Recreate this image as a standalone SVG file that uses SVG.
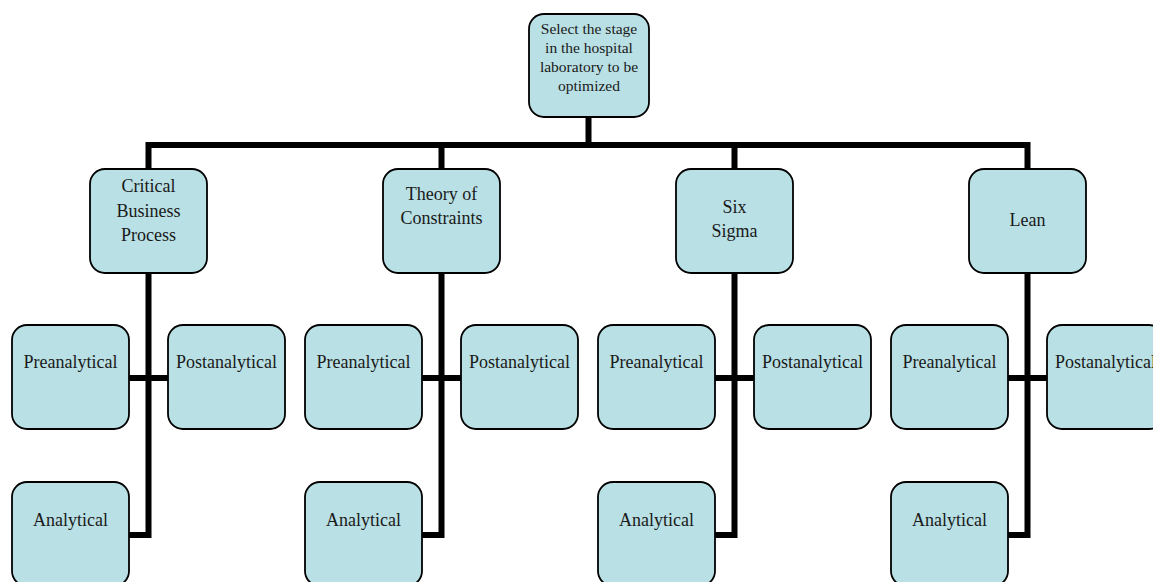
<svg xmlns="http://www.w3.org/2000/svg" width="1153" height="582" viewBox="0 0 1153 582">
<style>
.box{fill:#B9E0E4;stroke:#000;stroke-width:1.8}
.t{font-family:"Liberation Serif","Times New Roman",serif;font-size:18px;fill:#1a1a1a;text-anchor:middle}
.ts{font-family:"Liberation Serif","Times New Roman",serif;font-size:15.5px;fill:#1a1a1a;text-anchor:middle}
.c{fill:none;stroke:#000;stroke-width:6;stroke-linejoin:miter;stroke-linecap:butt}
</style>
<rect width="1153" height="582" fill="#fff"/>
<g id="connectors">
<path class="c" d="M588.5,117 V145 M145.5,145 H1030.5 M148.5,145 V169 M441.5,145 V169 M734.5,145 V169 M1027.5,145 V169"/>
<path class="c" d="M148.5,273 V538 M129,378 H168 M129,535 H148.5"/>
<path class="c" d="M441.5,273 V538 M422,378 H461 M422,535 H441.5"/>
<path class="c" d="M734.5,273 V538 M715,378 H754 M715,535 H734.5"/>
<path class="c" d="M1027.5,273 V538 M1008,378 H1047 M1008,535 H1027.5"/>
</g>
<g id="root">
<rect class="box" x="529" y="14" width="120" height="103" rx="15"/>
<text class="ts" x="589" y="34">Select the stage</text>
<text class="ts" x="589" y="53">in the hospital</text>
<text class="ts" x="589" y="72">laboratory to be</text>
<text class="ts" x="589" y="91">optimized</text>
</g>
<g id="cbp">
<rect class="box" x="90" y="169" width="117" height="104" rx="15"/>
<text class="t" x="148.5" y="192">Critical</text>
<text class="t" x="148.5" y="217">Business</text>
<text class="t" x="148.5" y="241">Process</text>
</g>
<g id="toc">
<rect class="box" x="383" y="169" width="117" height="104" rx="15"/>
<text class="t" x="441.5" y="200">Theory of</text>
<text class="t" x="441.5" y="224">Constraints</text>
</g>
<g id="sixsigma">
<rect class="box" x="676" y="169" width="117" height="104" rx="15"/>
<text class="t" x="734.5" y="213">Six</text>
<text class="t" x="734.5" y="237">Sigma</text>
</g>
<g id="lean">
<rect class="box" x="969" y="169" width="117" height="104" rx="15"/>
<text class="t" x="1027.5" y="226">Lean</text>
</g>
<g id="cbp-pre"><rect class="box" x="12" y="325" width="117" height="104" rx="15"/><text class="t" x="70.5" y="368">Preanalytical</text></g>
<g id="cbp-post"><rect class="box" x="168" y="325" width="117" height="104" rx="15"/><text class="t" x="226.5" y="368">Postanalytical</text></g>
<g id="cbp-ana"><rect class="box" x="12" y="482" width="117" height="104" rx="15"/><text class="t" x="70.5" y="526">Analytical</text></g>
<g id="toc-pre"><rect class="box" x="305" y="325" width="117" height="104" rx="15"/><text class="t" x="363.5" y="368">Preanalytical</text></g>
<g id="toc-post"><rect class="box" x="461" y="325" width="117" height="104" rx="15"/><text class="t" x="519.5" y="368">Postanalytical</text></g>
<g id="toc-ana"><rect class="box" x="305" y="482" width="117" height="104" rx="15"/><text class="t" x="363.5" y="526">Analytical</text></g>
<g id="ss-pre"><rect class="box" x="598" y="325" width="117" height="104" rx="15"/><text class="t" x="656.5" y="368">Preanalytical</text></g>
<g id="ss-post"><rect class="box" x="754" y="325" width="117" height="104" rx="15"/><text class="t" x="812.5" y="368">Postanalytical</text></g>
<g id="ss-ana"><rect class="box" x="598" y="482" width="117" height="104" rx="15"/><text class="t" x="656.5" y="526">Analytical</text></g>
<g id="lean-pre"><rect class="box" x="891" y="325" width="117" height="104" rx="15"/><text class="t" x="949.5" y="368">Preanalytical</text></g>
<g id="lean-post"><rect class="box" x="1047" y="325" width="117" height="104" rx="15"/><text class="t" x="1105.5" y="368">Postanalytical</text></g>
<g id="lean-ana"><rect class="box" x="891" y="482" width="117" height="104" rx="15"/><text class="t" x="949.5" y="526">Analytical</text></g>
</svg>
